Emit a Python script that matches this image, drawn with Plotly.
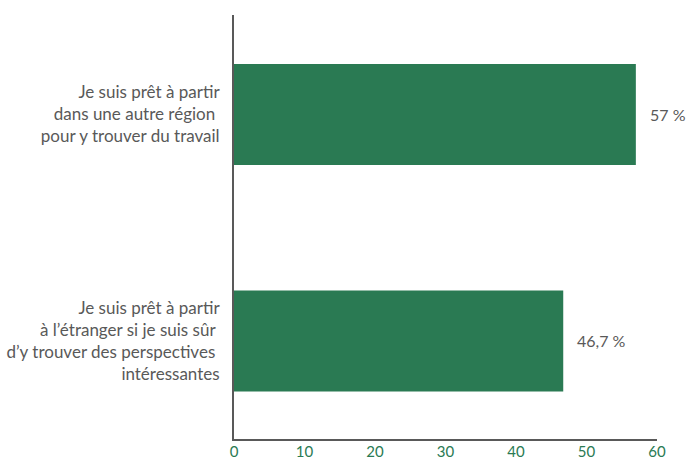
import plotly.graph_objects as go

green = "#2A7A53"
grey = "#595959"

# bottom to top
categories = [
    "Je suis prêt à partir<br>à l’étranger si je suis sûr&nbsp;<br>d’y trouver des perspectives&nbsp;<br>intéressantes",
    "Je suis prêt à partir<br>dans une autre région&nbsp;<br>pour y trouver du travail",
]
values = [46.7, 57]
value_labels = ["46,7 %", "57 %"]
x_ticks = [0, 10, 20, 30, 40, 50, 60]

fig = go.Figure(
    go.Bar(
        x=values,
        y=categories,
        orientation="h",
        marker=dict(color=green, line=dict(width=0)),
        showlegend=False,
        hoverinfo="x",
    )
)

for v, lab, cat in zip(values, value_labels, categories):
    fig.add_annotation(
        x=v, y=cat, text=lab, showarrow=False,
        xanchor="left", xshift=12,
        font=dict(family="Lato", size=16, color=grey),
    )

fig.update_layout(
    width=687,
    height=461,
    margin=dict(l=234, r=30, t=15, b=22),
    paper_bgcolor="white",
    plot_bgcolor="white",
    bargap=0.554,
    font=dict(family="Lato", size=15, color=grey),
    xaxis=dict(
        range=[0, 60],
        tickvals=x_ticks,
        showgrid=False,
        zeroline=False,
        showline=True,
        linecolor=grey,
        linewidth=2,
        ticks="",
        automargin=False,
        ticklabelstandoff=-2,
        tickfont=dict(family="Lato", size=15, color=green),
    ),
    yaxis=dict(
        type="category",
        range=[-0.433, 1.439],
        showgrid=False,
        zeroline=False,
        showline=True,
        linecolor=grey,
        linewidth=2,
        ticks="",
        automargin=False,
        ticklabelstandoff=9,
        tickfont=dict(family="Lato", size=17, color=grey),
    ),
)

fig.write_html(
    "out.html",
    config={"displayModeBar": False},
    post_script="document.body.style.margin = '0';",
)
